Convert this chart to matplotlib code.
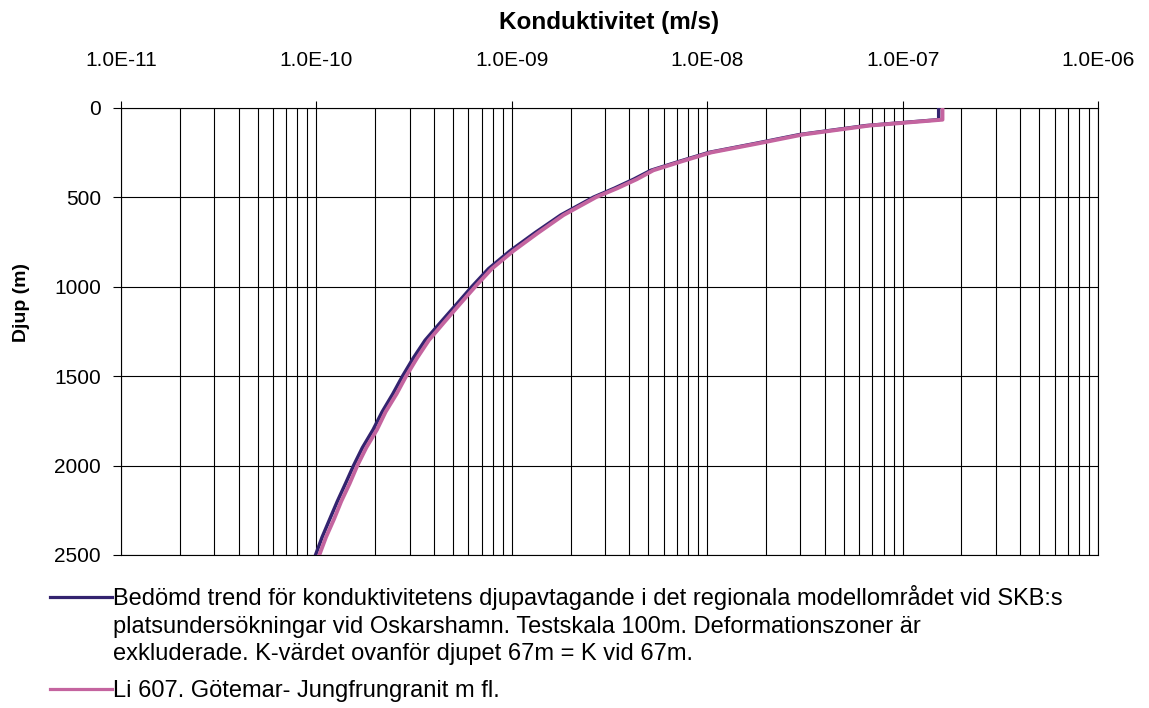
import matplotlib
matplotlib.use("Agg")
import matplotlib.pyplot as plt
from matplotlib.lines import Line2D
from matplotlib.ticker import FixedLocator, LogLocator, NullFormatter

plt.rcParams["font.family"] = ["Liberation Sans", "DejaVu Sans"]

# Depth (m) and hydraulic conductivity (m/s) for the two trends
depth = [0, 67, 100, 150, 200, 250, 300, 350, 400, 450, 500, 600, 700, 800,
         900, 1000, 1100, 1200, 1300, 1400, 1500, 1600, 1700, 1800, 1900,
         2000, 2100, 2200, 2300, 2400, 2500]

k_bedomd = [1.53e-7, 1.53e-7, 6.5e-8, 2.98e-8, 1.76e-8, 1.02e-8, 7.2e-9,
            5.15e-9, 4.2e-9, 3.35e-9, 2.62e-9, 1.78e-9, 1.31e-9, 9.8e-10,
            7.6e-10, 6.25e-10, 5.2e-10, 4.32e-10, 3.6e-10, 3.13e-10,
            2.76e-10, 2.46e-10, 2.17e-10, 1.95e-10, 1.72e-10, 1.55e-10,
            1.41e-10, 1.28e-10, 1.17e-10, 1.07e-10, 0.99e-10]

k_li607 = [1.6e-7, 1.6e-7, 6.76e-8, 3.09e-8, 1.82e-8, 1.05e-8, 7.4e-9,
           5.3e-9, 4.36e-9, 3.47e-9, 2.7e-9, 1.84e-9, 1.36e-9, 1.02e-9,
           7.9e-10, 6.5e-10, 5.4e-10, 4.5e-10, 3.76e-10, 3.27e-10,
           2.88e-10, 2.57e-10, 2.26e-10, 2.04e-10, 1.80e-10, 1.62e-10,
           1.48e-10, 1.34e-10, 1.23e-10, 1.12e-10, 1.035e-10]

x_ticks = [1e-11, 1e-10, 1e-9, 1e-8, 1e-7, 1e-6]
x_ticklabels = ["1.0E-11", "1.0E-10", "1.0E-09", "1.0E-08", "1.0E-07", "1.0E-06"]
y_ticks = [0, 500, 1000, 1500, 2000, 2500]

legend_bedomd = [
    "Bedömd trend för konduktivitetens djupavtagande i det regionala modellområdet vid SKB:s",
    "platsundersökningar vid Oskarshamn. Testskala 100m. Deformationszoner är",
    "exkluderade. K-värdet ovanför djupet 67m = K vid 67m.",
]
legend_li607 = "Li 607. Götemar- Jungfrungranit m fl."

C_DARK = "#33236f"
C_PINK = "#c4649f"

W, H = 1149, 708
fig = plt.figure(figsize=(W / 100, H / 100), dpi=100)
left, right, top, bottom = 121, 1098, 107.7, 555
ax = fig.add_axes([left / W, 1 - bottom / H, (right - left) / W, (bottom - top) / H])

ax.plot(k_bedomd, depth, color=C_DARK, lw=2.5, zorder=3)
ax.plot(k_li607, depth, color=C_PINK, lw=2.8, zorder=4)

ax.set_xscale("log")
ax.set_xlim(1e-11, 1e-6)
ax.set_ylim(2500, 0)

ax.xaxis.tick_top()
ax.xaxis.set_major_locator(FixedLocator(x_ticks))
ax.set_xticklabels(x_ticklabels)
ax.xaxis.set_minor_locator(LogLocator(base=10, subs=range(2, 10)))
ax.xaxis.set_minor_formatter(NullFormatter())
ax.set_yticks(y_ticks)
ax.set_yticklabels([str(v) for v in y_ticks])

ax.tick_params(axis="x", which="major", direction="out", length=5, width=0.8,
               labelsize=15, pad=22, top=True, bottom=False)
ax.tick_params(axis="x", which="minor", length=0)
ax.tick_params(axis="y", which="major", direction="out", length=5.5, width=0.8,
               labelsize=15, pad=9)

ax.grid(which="both", axis="x", color="black", lw=0.8)
ax.grid(which="major", axis="y", color="black", lw=0.8)
ax.set_axisbelow(True)
for s in ax.spines.values():
    s.set_color("black")
    s.set_linewidth(0.8)

fig.text((left + right) / 2 / W, 1 - 22 / H, "Konduktivitet (m/s)",
         ha="center", va="center", fontsize=17.5, fontweight="bold")
fig.text(22 / W, 1 - 302 / H, "Djup (m)", rotation=90,
         ha="center", va="center", fontsize=14, fontweight="bold")

# Legend drawn below the plot
def legend_entry(y_center, color, lines, spacing=27.5):
    fig.add_artist(Line2D([50 / W, 112 / W], [1 - y_center / H, 1 - y_center / H],
                          color=color, lw=2.3, transform=fig.transFigure))
    for i, line in enumerate(lines):
        yb = y_center + 8 + i * spacing
        fig.text(113 / W, 1 - yb / H, line, ha="left", va="baseline", fontsize=17)

legend_entry(597, C_DARK, legend_bedomd)
legend_entry(689, C_PINK, [legend_li607])

fig.savefig("out.png", dpi=100)
